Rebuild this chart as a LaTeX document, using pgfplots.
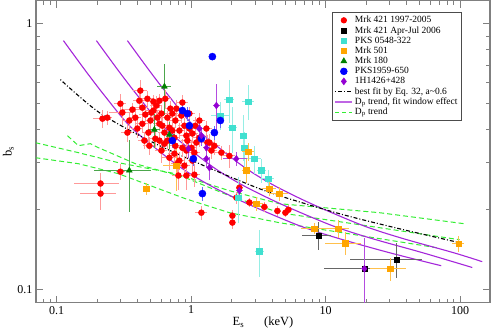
\documentclass[border=0pt]{standalone}
\usepackage{fontspec}
\setmainfont{Liberation Serif}
\usepackage{pgfplots}
\pgfplotsset{compat=1.18}

\definecolor{pksc}{HTML}{40E0D0}
\definecolor{mrkor}{HTML}{FFA500}
\definecolor{mrkgr}{HTML}{008000}
\definecolor{pksb}{HTML}{0000FF}
\definecolor{hpur}{HTML}{9400D3}
\definecolor{dpgreen}{HTML}{33EE33}
\definecolor{frame}{HTML}{808080}

\pgfplotsset{
  pts/.style={only marks, forget plot,
    error bars/x dir=both, error bars/x explicit relative,
    error bars/y dir=both, error bars/y explicit relative,
    error bars/error mark=none},
}

\begin{document}
\begin{tikzpicture}

\begin{axis}[
  xmode=log, ymode=log,
  width=454pt, height=302pt, scale only axis,
  xmin=0.0702, xmax=167, ymin=0.0896, ymax=1.224,
  xtick={0.1,1,10,100}, xticklabels={0.1,1,10,100},
  ytick={0.1,1}, yticklabels={0.1,1},
  minor xtick={0.08,0.09,0.2,0.3,0.4,0.5,0.6,0.7,0.8,0.9,2,3,4,5,6,7,8,9,20,30,40,50,60,70,80,90,200},
  minor ytick={0.2,0.3,0.4,0.5,0.6,0.7,0.8,0.9},
  tick align=inside,
  major tick length=7pt, minor tick length=4pt,
  axis line style={frame, line width=1.1pt},
  every tick/.style={frame, line width=0.9pt},
  tick label style={font=\fontsize{12}{13}\selectfont},
  /pgf/number format/assume math mode=true,
  xlabel={E$_\mathrm{s}$\hspace{1.6em}(keV)},
  ylabel={b$_\mathrm{s}$},
  label style={font=\fontsize{12.5}{13}\selectfont},
  xlabel style={yshift=4pt},
  ylabel style={yshift=-3pt},
  legend cell align=left,
  legend style={at={(axis description cs:0.938,0.962)}, anchor=north east,
    font=\fontsize{9.5}{10}\selectfont, draw=black!70, line width=0.6pt,
    fill=white, row sep=-1.8pt, inner sep=2pt},
]

% legend entries
\addlegendimage{only marks, mark=*, mark size=2.8pt, red, fill=red}
\addlegendentry{Mrk 421 1997-2005}
\addlegendimage{only marks, mark=square*, mark size=2.4pt, black}
\addlegendentry{Mrk 421 Apr-Jul 2006}
\addlegendimage{only marks, mark=square*, mark size=2.8pt, pksc}
\addlegendentry{PKS 0548-322}
\addlegendimage{only marks, mark=square*, mark size=2.8pt, mrkor}
\addlegendentry{Mrk 501}
\addlegendimage{only marks, mark=triangle*, mark size=3.4pt, mrkgr}
\addlegendentry{Mrk 180}
\addlegendimage{only marks, mark=*, mark size=3.4pt, pksb}
\addlegendentry{PKS1959-650}
\addlegendimage{only marks, mark=diamond*, mark size=3.4pt, hpur}
\addlegendentry{1H1426+428}
\addlegendimage{black, line width=1.1pt, dash pattern=on 1pt off 2pt on 4pt off 2pt}
\addlegendentry{best fit by Eq. 32, a\textasciitilde 0.6}
\addlegendimage{hpur!60, line width=1.2pt}
\addlegendentry{D$_\mathrm{p}$ trend, fit window effect}
\addlegendimage{dpgreen, line width=1pt, dash pattern=on 4pt off 3pt}
\addlegendentry{D$_\mathrm{p}$ trend}

% D_p trend (green, dashed)
\addplot[forget plot, dpgreen, line width=1pt, dash pattern=on 5pt off 3pt] coordinates {
(0.0694,0.3575) (0.1451,0.3279) (0.2877,0.3006) (0.7637,0.2733) (1.926,0.2359) (4.534,0.2108) (25.13,0.1950) (108.0,0.1772)};
\addplot[forget plot, dpgreen, line width=1pt, dash pattern=on 5pt off 3pt] coordinates {
(0.1202,0.3799) (0.1451,0.3483) (0.1781,0.3544) (0.2045,0.3423) (0.2596,0.3250) (0.3850,0.2980) (0.9063,0.2640) (1.926,0.2259) (4.534,0.1950) (99.2,0.1543)};
\addplot[forget plot, dpgreen, line width=1pt, dash pattern=on 5pt off 3pt] coordinates {
(0.0694,0.3139) (0.1451,0.2980) (0.2877,0.2733) (0.9063,0.2201) (1.926,0.1950) (4.534,0.1788) (66.9,0.1440)};

% D_p trend, fit window effect (purple)
\addplot[forget plot, hpur!85, line width=1.1pt, smooth] coordinates {
(0.1123,0.865) (0.1636,0.667) (0.2303,0.5325) (0.3534,0.4106) (0.6112,0.325) (0.9063,0.2805) (1.439,0.2442) (2.712,0.209) (6.386,0.1742) (12.67,0.1557) (29.83,0.1379) (72.4,0.1232)};
\addplot[forget plot, hpur!85, line width=1.1pt, smooth] coordinates {
(0.1975,0.865) (0.2877,0.667) (0.4052,0.5325) (0.6217,0.4106) (1.0756,0.325) (1.595,0.2805) (2.533,0.2442) (4.773,0.209) (11.24,0.1742) (22.29,0.1557) (52.6,0.1379) (123.3,0.1213)};
\addplot[forget plot, hpur!85, line width=1.1pt, smooth] coordinates {
(0.3357,0.865) (0.4893,0.667) (0.6891,0.5325) (1.0573,0.4106) (1.8292,0.325) (2.712,0.2805) (4.307,0.2442) (8.116,0.209) (19.11,0.1742) (37.91,0.1557) (89.46,0.1379) (146.3,0.1276)};

% best fit (black dash-dot)
\addplot[forget plot, black, line width=1.1pt, smooth, dash pattern=on 1pt off 2pt on 4pt off 2pt] coordinates {
(0.1066,0.617) (0.208,0.4636) (0.4893,0.3638) (1.152,0.298) (2.712,0.2484) (4.534,0.2259) (12.67,0.1933) (35.4,0.1697) (99.2,0.1504)};

% Mrk 421 1997-2005
\addplot[pts, mark=*, mark size=3pt, red, mark options={fill=red, draw=red},
  error bars/error bar style={red!40, line width=0.8pt}]
  table[x=x, y=y, x error=ex, y error=ey] {
x y ex ey
0.212 0.251 0.37 0.10
0.212 0.230 0.30 0.13
0.298 0.278 0.08 0.07
0.219 0.440 0.15 0.08
0.238 0.444 0.08 0.06
0.419 0.561 0.12 0.10
0.298 0.501 0.10 0.09
0.308 0.464 0.20 0.10
0.336 0.390 0.10 0.08
0.366 0.476 0.15 0.06
0.385 0.444 0.10 0.10
0.434 0.484 0.10 0.08
0.434 0.421 0.12 0.07
0.457 0.456 0.10 0.06
0.481 0.390 0.10 0.09
0.498 0.433 0.08 0.07
0.524 0.510 0.10 0.06
0.524 0.472 0.12 0.08
0.552 0.493 0.10 0.09
0.561 0.444 0.10 0.07
0.581 0.421 0.10 0.06
0.601 0.460 0.09 0.08
0.611 0.414 0.12 0.07
0.633 0.390 0.10 0.09
0.601 0.334 0.10 0.10
0.633 0.354 0.08 0.07
0.666 0.444 0.10 0.06
0.689 0.407 0.10 0.08
0.689 0.314 0.12 0.10
0.701 0.480 0.10 0.07
0.725 0.460 0.10 0.06
0.725 0.397 0.08 0.08
0.751 0.373 0.10 0.07
0.751 0.325 0.10 0.09
0.764 0.433 0.12 0.06
0.777 0.480 0.10 0.08
0.790 0.298 0.10 0.10
0.804 0.269 0.10 0.12
0.818 0.397 0.10 0.07
0.818 0.306 0.08 0.08
0.846 0.452 0.10 0.06
0.861 0.342 0.10 0.08
0.891 0.414 0.10 0.07
0.922 0.380 0.10 0.08
0.922 0.334 0.08 0.07
0.922 0.269 0.10 0.12
0.938 0.364 0.10 0.07
0.971 0.404 0.10 0.08
1.005 0.342 0.10 0.06
1.022 0.387 0.10 0.08
1.022 0.306 0.08 0.09
1.057 0.328 0.10 0.07
1.057 0.271 0.10 0.10
1.094 0.358 0.10 0.08
1.152 0.433 0.10 0.07
1.152 0.373 0.10 0.08
1.299 0.404 0.10 0.07
1.367 0.358 0.08 0.08
1.415 0.334 0.10 0.07
1.679 0.328 0.10 0.06
1.926 0.319 0.10 0.10
1.192 0.195 0.10 0.06
2.027 0.190 0.05 0.05
2.027 0.179 0.05 0.05
2.712 0.213 0.06 0.04
3.507 0.205 0.06 0.04
4.381 0.198 0.06 0.04
5.024 0.195 0.05 0.04
5.290 0.200 0.05 0.04
2.171 0.222 0.06 0.05
2.285 0.242 0.06 0.06
0.412 0.514 0.10 0.08
0.473 0.523 0.10 0.07
0.506 0.464 0.10 0.08
0.581 0.514 0.10 0.06
0.643 0.523 0.10 0.08
0.347 0.433 0.10 0.07
0.398 0.404 0.10 0.08
0.449 0.364 0.10 0.07
0.542 0.370 0.10 0.08
0.666 0.364 0.10 0.07
0.891 0.293 0.10 0.08
0.581 0.364 0.10 0.07
0.489 0.348 0.10 0.08
0.764 0.348 0.10 0.07
0.971 0.460 0.10 0.06
1.076 0.414 0.10 0.08
1.321 0.358 0.10 0.07
1.489 0.348 0.10 0.08
0.861 0.506 0.10 0.07
};

% Mrk 421 Apr-Jul 2006
\addplot[pts, mark=square*, mark size=2.4pt, black,
  error bars/error bar style={black!60, line width=0.9pt}]
  table[x=x, y=y, x error=ex, y error=ey] {
x y ex ey
8.84 0.160 0.25 0.12
33.6 0.130 0.55 0.15
19.44 0.120 0.50 0.20
};

% PKS 0548-322
\addplot[pts, mark=square*, mark size=2.8pt, pksc,
  error bars/error bar style={pksc!55, line width=0.9pt}]
  table[x=x, y=y, x error=ex, y error=ey] {
x y ex ey
1.926 0.519 0.09 0.18
2.666 0.510 0.10 0.15
1.650 0.452 0.15 0.12
2.027 0.407 0.08 0.20
2.447 0.380 0.06 0.20
2.490 0.342 0.06 0.15
2.955 0.311 0.12 0.12
3.331 0.281 0.08 0.10
3.755 0.262 0.10 0.08
2.246 0.222 0.05 0.20
3.219 0.140 0.08 0.20
};

% Mrk 501
\addplot[pts, mark=square*, mark size=2.8pt, mrkor,
  error bars/error bar style={mrkor!70, line width=0.9pt}]
  table[x=x, y=y, x error=ex, y error=ey] {
x y ex ey
0.465 0.240 0.04 0.05
0.777 0.293 0.20 0.20
2.666 0.331 0.10 0.08
2.576 0.281 0.08 0.10
3.820 0.240 0.12 0.06
4.534 0.230 0.15 0.06
3.058 0.211 0.12 0.06
8.256 0.170 0.20 0.05
12.45 0.170 0.20 0.08
14.04 0.150 0.30 0.10
30.35 0.120 0.30 0.10
97.5 0.149 0.10 0.07
};

% Mrk 180
\addplot[pts, mark=triangle*, mark size=3.4pt, mrkgr,
  error bars/error bar style={mrkgr!70, line width=0.9pt}]
  table[x=x, y=y, x error=ex, y error=ey] {
x y ex ey
0.633 0.581 0.12 0.22
0.347 0.281 0.45 0.30
0.533 0.400 0.10 0.15
0.689 0.383 0.10 0.12
};

% PKS1959-650
\addplot[pts, mark=*, mark size=3.6pt, pksb,
  error bars/error bar style={pksb!60, line width=0.9pt}]
  table[x=x, y=y, x error=ex, y error=ey] {
x y ex ey
1.439 0.753 0.01 0.01
0.861 0.472 0.03 0.06
0.938 0.460 0.03 0.06
0.971 0.414 0.03 0.06
0.725 0.364 0.03 0.06
1.039 0.311 0.03 0.06
1.650 0.433 0.03 0.06
1.489 0.390 0.03 0.06
1.192 0.370 0.03 0.06
1.213 0.230 0.03 0.06
};

% 1H1426+428
\addplot[pts, mark=diamond*, mark size=3.4pt, hpur,
  error bars/error bar style={hpur!70, line width=0.9pt}]
  table[x=x, y=y, x error=ex, y error=ey] {
x y ex ey
1.541 0.493 0.06 0.20
1.152 0.404 0.06 0.08
1.192 0.380 0.06 0.08
1.299 0.342 0.06 0.10
0.954 0.339 0.06 0.08
1.299 0.311 0.06 0.08
1.367 0.288 0.06 0.10
2.171 0.311 0.20 0.06
2.285 0.236 0.06 0.08
19.44 0.120 0.05 0.30
};

\end{axis}
\pgfresetboundingbox
\path[use as bounding box] (-36pt,-30.5pt) rectangle (455pt,302.5pt);
\end{tikzpicture}
\end{document}
